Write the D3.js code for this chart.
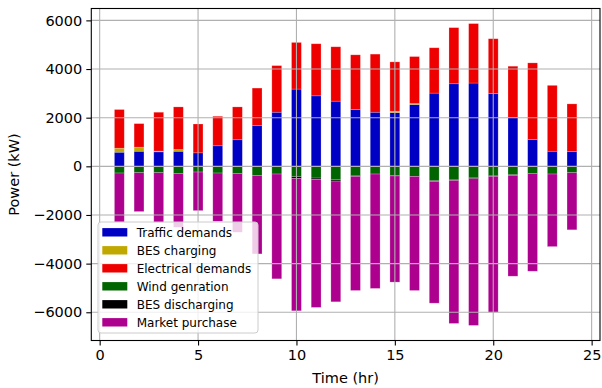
<!DOCTYPE html>
<html>
<head>
<meta charset="utf-8">
<script src="https://cdn.jsdelivr.net/npm/d3@7"></script>
<style>
  body { margin: 0; background: #fff; }
  svg { display: block; font-family: "DejaVu Sans", sans-serif; }
</style>
</head>
<body>
<svg id="chart" width="602" height="388"></svg>
<script>
// hourly values (kW)
const hours = d3.range(1, 25);
const traffic = [580, 620, 596, 620, 555, 845, 1093, 1685, 2224, 3176, 2899, 2679, 2335, 2224, 2211, 2542, 3010, 3395, 3424, 2998, 2004, 1106, 621, 609];
const besCharge = [165, 167, 30, 70, 0, 0, 0, 0, 0, 0, 0, 0, 0, 0, 54, 40, 0, 0, 0, 0, 0, 0, 0, 0];
const elecDemand = [1590, 969, 1598, 1753, 1185, 1213, 1350, 1532, 1917, 1917, 2140, 2236, 2249, 2389, 2029, 1931, 1864, 2307, 2444, 2248, 2112, 3147, 2708, 1958];
const windGen = [-276, -262, -262, -290, -235, -276, -290, -373, -317, -428, -483, -552, -373, -317, -373, -414, -592, -538, -455, -373, -345, -290, -317, -262];
const besDischarge = [0, 0, 0, 0, 0, 0, 0, 0, 0, -69, -55, -55, -41, 0, -25, 0, -29, -42, -55, -41, -28, 0, 0, 0];
const marketPurchase = [-2014, -1598, -2043, -2215, -1585, -1984, -2420, -3227, -4308, -5443, -5262, -4963, -4691, -4703, -4362, -4691, -5004, -5880, -6030, -5581, -4144, -4022, -2983, -2348];

const xTicks = [0, 5, 10, 15, 20, 25];
const yTicks = [-6000, -4000, -2000, 0, 2000, 4000, 6000];

const series = [
  {name: "Traffic demands", values: traffic, color: "#0000c4"},
  {name: "BES charging", values: besCharge, color: "#c0a800"},
  {name: "Electrical demands", values: elecDemand, color: "#ee0000"},
  {name: "Wind genration", values: windGen, color: "#006400"},
  {name: "BES discharging", values: besDischarge, color: "#000000"},
  {name: "Market purchase", values: marketPurchase, color: "#ad008e"}
];

const margin = {top: 8.5, right: 2, bottom: 47.5, left: 91.3};
const width = 602 - margin.left - margin.right;
const height = 388 - margin.top - margin.bottom;
const barWidth = 0.5;

// build stacked segments, positives upward and negatives downward
const segments = [];
hours.forEach((h, i) => {
  let pos = 0, neg = 0;
  series.forEach(s => {
    const v = s.values[i];
    if (v >= 0) {
      segments.push({hour: h, y0: pos, y1: pos + v, color: s.color});
      pos += v;
    } else {
      segments.push({hour: h, y0: neg, y1: neg + v, color: s.color});
      neg += v;
    }
  });
});

const yMax = d3.max(segments, d => Math.max(d.y0, d.y1));
const yMin = d3.min(segments, d => Math.min(d.y0, d.y1));
const yPad = (yMax - yMin) * 0.05;
const xLo = 1 - barWidth / 2, xHi = 24 + barWidth / 2;
const xPad = (xHi - xLo) * 0.05;

const x = d3.scaleLinear().domain([xLo - xPad, xHi + xPad]).range([0, width]);
const y = d3.scaleLinear().domain([yMin - yPad, yMax + yPad]).range([height, 0]);

const svg = d3.select("#chart")
  .append("g")
  .attr("transform", "translate(" + margin.left + "," + margin.top + ")");

// bars
svg.selectAll("rect.bar")
  .data(segments.filter(d => d.y0 !== d.y1))
  .enter()
  .append("rect")
  .attr("class", "bar")
  .attr("x", d => x(d.hour - barWidth / 2))
  .attr("width", x(barWidth) - x(0))
  .attr("y", d => y(Math.max(d.y0, d.y1)))
  .attr("height", d => Math.abs(y(d.y0) - y(d.y1)))
  .attr("fill", d => d.color)
  .attr("stroke", "#ffffff")
  .attr("stroke-opacity", 0.3)
  .attr("stroke-width", 0.7);

// grid drawn over the bars, like matplotlib does
const grid = svg.append("g").attr("stroke", "#b0b0b0").attr("stroke-width", 1.1);
grid.selectAll("line.gx").data(xTicks).enter().append("line")
  .attr("x1", d => x(d)).attr("x2", d => x(d)).attr("y1", 0).attr("y2", height);
grid.selectAll("line.gy").data(yTicks).enter().append("line")
  .attr("x1", 0).attr("x2", width).attr("y1", d => y(d)).attr("y2", d => y(d));

// axes
const xAxis = svg.append("g")
  .attr("transform", "translate(0," + height + ")")
  .call(d3.axisBottom(x).tickValues(xTicks).tickSize(5).tickPadding(4).tickFormat(d3.format("d")));
const yAxis = svg.append("g")
  .call(d3.axisLeft(y).tickValues(yTicks).tickSize(5).tickPadding(4).tickFormat(d => d3.format("d")(d).replace("-", "\u2212")));
[xAxis, yAxis].forEach(a => {
  a.select(".domain").remove();
  a.selectAll("text").attr("font-size", 14.5).attr("fill", "#000").attr("font-family", "DejaVu Sans");
  a.selectAll("line").attr("stroke", "#000").attr("stroke-width", 1.1);
});

// frame
svg.append("rect")
  .attr("width", width).attr("height", height)
  .attr("fill", "none").attr("stroke", "#000").attr("stroke-width", 1.1);

// axis labels
svg.append("text")
  .attr("x", width / 2).attr("y", height + 42)
  .attr("text-anchor", "middle").attr("font-size", 14.5)
  .text("Time (hr)");
svg.append("text")
  .attr("transform", "translate(" + (-72) + "," + (height / 2) + ")rotate(-90)")
  .attr("text-anchor", "middle").attr("font-size", 14.5)
  .text("Power (kW)");

// legend
const legend = svg.append("g").attr("transform", "translate(" + (98 - margin.left) + "," + (222 - margin.top) + ")");
legend.append("rect")
  .attr("width", 160).attr("height", 111).attr("rx", 3)
  .attr("fill", "#fff").attr("fill-opacity", 0.8)
  .attr("stroke", "#cccccc").attr("stroke-width", 1);
const item = legend.selectAll("g.item")
  .data(series)
  .enter()
  .append("g")
  .attr("transform", (d, i) => "translate(0," + (10.3 + i * 18) + ")");
item.append("rect")
  .attr("x", 4.3).attr("y", -4.2).attr("width", 25).attr("height", 8.4)
  .attr("fill", d => d.color);
item.append("text")
  .attr("x", 38.7).attr("y", 4.3)
  .attr("font-size", 12)
  .text(d => d.name);
</script>
</body>
</html>
